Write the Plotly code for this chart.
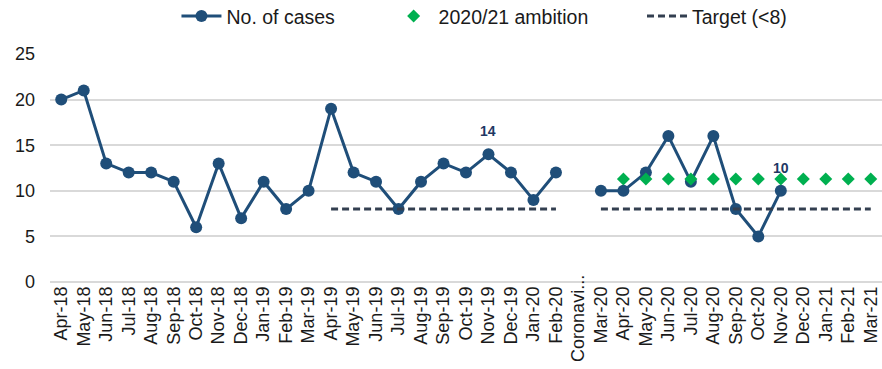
import plotly.graph_objects as go

months = [
    "Apr-18", "May-18", "Jun-18", "Jul-18", "Aug-18", "Sep-18", "Oct-18", "Nov-18",
    "Dec-18", "Jan-19", "Feb-19", "Mar-19", "Apr-19", "May-19", "Jun-19", "Jul-19",
    "Aug-19", "Sep-19", "Oct-19", "Nov-19", "Dec-19", "Jan-20", "Feb-20", "Coronavirus",
    "Mar-20", "Apr-20", "May-20", "Jun-20", "Jul-20", "Aug-20", "Sep-20", "Oct-20",
    "Nov-20", "Dec-20", "Jan-21", "Feb-21", "Mar-21",
]
tick_labels = [m if m != "Coronavirus" else "" for m in months]

cases = [
    20, 21, 13, 12, 12, 11, 6, 13, 7, 11, 8, 10, 19, 12, 11, 8,
    11, 13, 12, 14, 12, 9, 12, None,
    10, 10, 12, 16, 11, 16, 8, 5, 10, None, None, None, None,
]
labelled_months = ["Nov-19", "Nov-20"]

ambition = [None] * 25 + [11.3] * 12
target = [None] * 12 + [8] * 11 + [None] + [8] * 13

line_col = "#1F4E79"
text_col = "#1F3864"
font_family = "Liberation Sans, Arial, sans-serif"
pad = "\u00a0" * 9  # spacing between legend entries

fig = go.Figure()

fig.add_trace(go.Scatter(
    x=months, y=cases, name="No. of cases" + pad, mode="lines+markers",
    line=dict(color=line_col, width=3),
    marker=dict(color=line_col, size=12),
    connectgaps=False,
))
fig.add_trace(go.Scatter(
    x=months, y=ambition, name="2020/21 ambition" + pad, mode="markers",
    marker=dict(color="#00B050", size=10, symbol="diamond"),
))
fig.add_trace(go.Scatter(
    x=months, y=target, name="Target (<8)", mode="lines",
    line=dict(color="#333F50", width=3, dash="7px,4px"),
    connectgaps=False,
))

# value labels above selected points
for m in labelled_months:
    v = cases[months.index(m)]
    fig.add_annotation(
        x=m, y=v, xref="x", yref="y", text=f"<b>{v}</b>", showarrow=False,
        yshift=23, font=dict(size=14, family=font_family, color=text_col),
    )

fig.add_annotation(
    x="Coronavirus", xref="x", y=-0.16, yref="paper",
    text="Coronavi...", textangle=-90, showarrow=False,
    xanchor="center", yanchor="middle",
    font=dict(size=18, family=font_family, color="#1a1a1a"),
)

fig.update_layout(
    width=882, height=369,
    margin=dict(l=50, r=0, t=54, b=87, autoexpand=False),
    paper_bgcolor="white", plot_bgcolor="white",
    font=dict(family=font_family, size=18, color="#1a1a1a"),
    showlegend=True,
    legend=dict(
        orientation="h", x=0.152, xanchor="left", y=0.956, yref="container",
        yanchor="middle", font=dict(size=19.5), itemwidth=40,
    ),
)
fig.update_xaxes(
    type="category", categoryorder="array", categoryarray=months,
    tickmode="array", tickvals=months, ticktext=tick_labels,
    tickangle=-90, showgrid=False, showline=False, automargin=False,
    tickfont=dict(size=18), range=[-0.5, len(months) - 0.5],
)
fig.update_yaxes(
    range=[0, 25], dtick=5, showgrid=True, gridcolor="#D9D9D9", gridwidth=1.5,
    zeroline=True, zerolinecolor="#D9D9D9", zerolinewidth=1.5,
    showline=False, automargin=False, ticklabelstandoff=14,
    tickfont=dict(size=18),
)

fig.write_html("out.html")
